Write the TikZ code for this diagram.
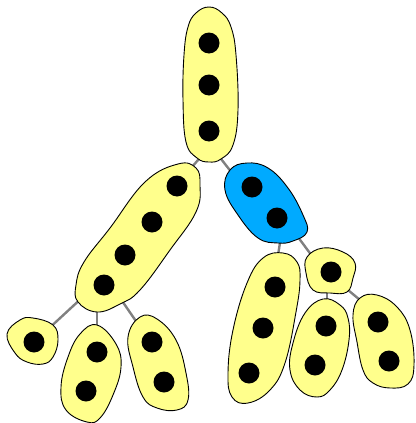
\documentclass[tikz,border=0pt]{standalone}
\begin{document}
\begin{tikzpicture}[x=1pt,y=-1pt,
  blob/.style={draw=black,line width=0.9pt,fill=blobyellow},
  blueblob/.style={draw=black,line width=0.9pt,fill=blobblue},
  dot/.style={fill=black},
  link/.style={draw=linkgray,line width=2.4pt}]
\definecolor{blobyellow}{HTML}{FFFF8C}
\definecolor{blobblue}{HTML}{00AAFF}
\definecolor{linkgray}{HTML}{808080}
\useasboundingbox (0,0) rectangle (415,423);
% connector ends
\coordinate (t1) at (205,152); \coordinate (l1) at (185,175);
\coordinate (t2) at (214,150); \coordinate (b2) at (236,178);
\coordinate (b3) at (281,236); \coordinate (r3) at (277,262);
\coordinate (b4) at (295,233); \coordinate (s4) at (315,260);
\coordinate (s5) at (327,285); \coordinate (m5) at (327,308);
\coordinate (s6) at (342,285); \coordinate (q6) at (366,305);
\coordinate (l7) at (85,295);  \coordinate (a7) at (45,332);
\coordinate (l8) at (97,305);  \coordinate (c8) at (97,332);
\coordinate (l9) at (118,295); \coordinate (d9) at (140,327);
\draw[link] (t1) -- (l1);
\draw[link] (t2) -- (b2);
\draw[link] (b3) -- (r3);
\draw[link] (b4) -- (s4);
\draw[link] (s5) -- (m5);
\draw[link] (s6) -- (q6);
\draw[link] (l7) -- (a7);
\draw[link] (l8) -- (c8);
\draw[link] (l9) -- (d9);
% top blob
\draw[blob] plot[smooth cycle,tension=0.7] coordinates {(209,7) (222,13) (231,27) (236,55) (238,110) (233,145) (221,159) (209,162) (197,158) (186,142) (183,100) (184,55) (188,27) (196,13)};
\fill[dot] (209,43) circle (10.5) (209,85) circle (10.5) (209,131) circle (10.5);
% blue blob
\draw[blueblob] plot[smooth cycle,tension=0.7] coordinates {(247,163) (268,168) (288,188) (303,215) (307,232) (293,241) (278,243) (258,238) (238,215) (225,190) (230,170)};
\fill[dot] (252,187) circle (10.5) (277,218) circle (10.5);
% left big blob
\draw[blob] plot[smooth cycle,tension=0.7] coordinates {(178,164) (196,168) (200,185) (196,212) (170,250) (140,290) (120,304) (97,312) (78,302) (76,285) (84,262) (110,228) (145,182)};
\fill[dot] (177,186) circle (10.5) (152,222) circle (10.5) (125,255) circle (10.5) (104,285) circle (10.5);
% small left blob
\draw[blob] plot[smooth cycle,tension=0.7] coordinates {(20,320) (33,318) (53,325) (58,340) (53,357) (43,364) (27,362) (15,353) (7,334)};
\fill[dot] (34,342) circle (10.5);
% mid-left blob
\draw[blob] plot[smooth cycle,tension=0.7] coordinates {(97,325) (116,344) (121,367) (113,395) (100,418) (87,422) (66,410) (61,387) (68,357) (80,334)};
\fill[dot] (97,352) circle (10.5) (86,391) circle (10.5);
% left-right blob
\draw[blob] plot[smooth cycle,tension=0.7] coordinates {(140,317) (157,319) (176,340) (186,373) (188,400) (177,410) (157,408) (143,397) (133,367) (128,337)};
\fill[dot] (152,342) circle (10.5) (164,382) circle (10.5);
% right big blob
\draw[blob] plot[smooth cycle,tension=0.7] coordinates {(283,253) (297,262) (300,280) (296,312) (285,363) (270,390) (248,403) (232,397) (228,373) (233,330) (247,283) (263,258)};
\fill[dot] (275,287) circle (10.5) (263,328) circle (10.5) (249,373) circle (10.5);
% small right blob
\draw[blob] plot[smooth cycle,tension=0.7] coordinates {(323,248) (343,252) (355,263) (353,278) (347,292) (330,293) (313,290) (306,273) (307,257)};
\fill[dot] (331,272) circle (10.5);
% mid right blob
\draw[blob] plot[smooth cycle,tension=0.7] coordinates {(323,299) (340,305) (348,318) (349,340) (342,370) (330,390) (317,397) (300,390) (290,370) (293,343) (305,313)};
\fill[dot] (326,326) circle (10.5) (315,365) circle (10.5);
% far right blob
\draw[blob] plot[smooth cycle,tension=0.7] coordinates {(377,295) (397,307) (410,330) (414,365) (408,384) (390,388) (373,383) (363,370) (357,342) (353,315) (360,298)};
\fill[dot] (378,322) circle (10.5) (389,361) circle (10.5);
\end{tikzpicture}
\end{document}
